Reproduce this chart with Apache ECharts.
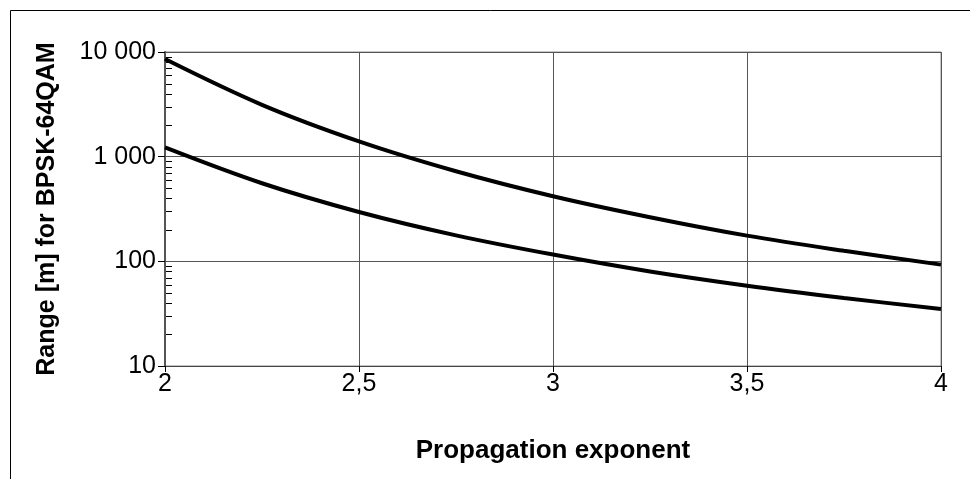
<!DOCTYPE html>
<html><head><meta charset="utf-8">
<script src="https://cdn.jsdelivr.net/npm/echarts@6/dist/echarts.min.js"></script>
<style>html,body{margin:0;padding:0;background:#fff}#c{width:970px;height:479px}</style>
</head><body><div id="c"></div>
<script>
const exponents = [2, 2.25, 2.5, 2.75, 3, 3.25, 3.5, 3.75, 4];
const upperRange = [8570, 3130, 1400, 726, 419, 264, 176, 126, 93];
const lowerRange = [1225, 557, 296, 177, 116, 80, 58.5, 44.7, 35];
const xTicks = [2, 2.5, 3, 3.5, 4];
const yTicks = [10, 100, 1000, 10000];
const minorYTicks = [];
[10, 100, 1000].forEach(d => { for (let k = 2; k <= 9; k++) minorYTicks.push(k * d); });

const FONT = '"Liberation Sans", Arial, sans-serif';
const chart = echarts.init(document.getElementById('c'), null, {renderer: 'canvas'});
chart.setOption({
  animation: false,
  backgroundColor: '#fff',
  graphic: [{type: 'rect', shape: {x: 10.5, y: 10.5, width: 1200, height: 1200}, style: {fill: 'none', stroke: '#000', lineWidth: 1}, z: -10}],
  grid: {left: 165, right: 29, top: 52, bottom: 113, show: true, borderColor: '#8c8c8c', borderWidth: 1, backgroundColor: 'transparent'},
  xAxis: {
    type: 'value', min: 2, max: 4, interval: 0.5,
    name: 'Propagation exponent', nameLocation: 'middle', nameGap: 72,
    nameTextStyle: {fontFamily: FONT, fontSize: 26, fontWeight: 'bold', color: '#000'},
    axisLine: {lineStyle: {color: '#444', width: 1}},
    axisTick: {show: true, length: 6, inside: false, lineStyle: {color: '#000'}},
    axisLabel: {margin: 6, fontFamily: FONT, fontSize: 25, color: '#000',
      formatter: v => (xTicks.includes(v) ? String(v).replace('.', ',') : '')},
    splitLine: {show: true, lineStyle: {color: '#555', width: 1}}
  },
  yAxis: {
    type: 'log', logBase: 10, min: 10, max: 10000,
    name: 'Range [m] for BPSK-64QAM', nameLocation: 'middle', nameGap: 105,
    nameTextStyle: {fontFamily: FONT, fontSize: 25, fontWeight: 'bold', color: '#000'},
    axisLine: {lineStyle: {color: '#555', width: 2}},
    axisTick: {show: true, length: 7, lineStyle: {color: '#000'}},
    axisLabel: {margin: 9, fontFamily: FONT, fontSize: 25, color: '#000',
      formatter: v => (yTicks.includes(Math.round(v)) ? String(Math.round(v)).replace(/\B(?=(\d{3})+(?!\d))/g, ' ') : '')},
    splitLine: {show: true, lineStyle: {color: '#555', width: 1}}
  },
  series: [
    {type: 'line', data: exponents.map((x, i) => [x, upperRange[i]]), smooth: 0.35, symbol: 'none',
      lineStyle: {color: '#000', width: 4}, z: 5},
    {type: 'line', data: exponents.map((x, i) => [x, lowerRange[i]]), smooth: 0.35, symbol: 'none',
      lineStyle: {color: '#000', width: 4}, z: 5},
    {type: 'custom', data: minorYTicks.map(v => [2, v]), silent: true, z: 4, clip: false,
      renderItem: (params, api) => {
        const p = api.coord([api.value(0), api.value(1)]);
        return {type: 'line', shape: {x1: p[0] + 1, y1: Math.round(p[1]) + 0.5, x2: p[0] + 7, y2: Math.round(p[1]) + 0.5},
          style: {stroke: '#000', lineWidth: 1}};
      }}
  ]
});
</script></body></html>
